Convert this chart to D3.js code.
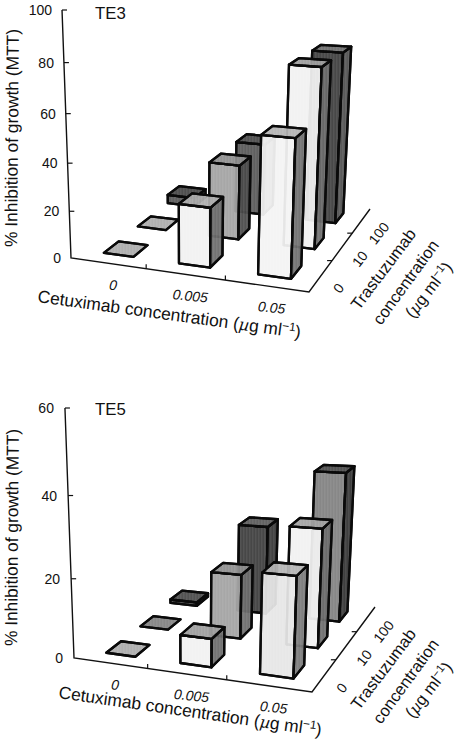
<!DOCTYPE html>
<html><head><meta charset="utf-8">
<script src="https://d3js.org/d3.v7.min.js"></script>
<style>
html,body{margin:0;padding:0;background:#fff}
svg{display:block}
text{font-family:"Liberation Sans",Arial,sans-serif;fill:#111}
</style></head><body>
<script>
const cetuximabLabels = ["0","0.005","0.05"];
const trastuzumabLabels = ["0","10","100"];
// values: rows = trastuzumab 0/10/100, columns = cetuximab 0/0.005/0.05
const te3Trast0   = [0, 25, 56];
const te3Trast10  = [0, 32.5, 76];
const te3Trast100 = [4, 32.5, 75.5];
const te5Trast0   = [0, 7, 24];
const te5Trast10  = [0, 16.5, 29.5];
const te5Trast100 = [1, 23.5, 38.5];
const te3Ticks = [0,20,40,60,80,100];
const te5Ticks = [0,20,40,60];
// face greys [front, side, top], same row/column order
const te3Fronts = [["#999","#f1f1f1","#f3f3f3"],["#999","#a2a2a2","#f1f1f1"],["#555","#565656","#3d3d3d"]];
const te3Sides  = [["#888","#6a6a6a","#6c6c6c"],["#888","#484848","#6a6a6a"],["#444","#5a5a5a","#505050"]];
const te3Tops   = [["#b0b0b0","#ababab","#b2b2b2"],["#b0b0b0","#8c8c8c","#9c9c9c"],["#444","#484848","#6a6a6a"]];
const te5Fronts = [["#999","#f1f1f1","#e6e6e6"],["#888","#a2a2a2","#f1f1f1"],["#444","#3c3c3c","#808080"]];
const te5Sides  = [["#888","#6a6a6a","#787878"],["#777","#6a6a6a","#6a6a6a"],["#333","#363636","#333"]];
const te5Tops   = [["#b0b0b0","#9c9c9c","#b2b2b2"],["#888","#8c8c8c","#a0a0a0"],["#484848","#585858","#484848"]];

const svg = d3.select("body").append("svg").attr("width",457).attr("height",747);
const defs = svg.append("defs");
const stripe = defs.append("pattern").attr("id","stripes").attr("width",3).attr("height",6).attr("patternUnits","userSpaceOnUse");
stripe.append("rect").attr("width",1.5).attr("height",6).attr("fill","#fff").attr("fill-opacity",0.07);

function panel(cfg){
  const g = svg.append("g");
  const [p0,p1,p2,p3] = cfg.floor;
  const dx1=p1[0]-p2[0], dx2=p3[0]-p2[0], sx=p0[0]-p1[0]+p2[0]-p3[0];
  const dy1=p1[1]-p2[1], dy2=p3[1]-p2[1], sy=p0[1]-p1[1]+p2[1]-p3[1];
  const den=dx1*dy2-dx2*dy1;
  const G=(sx*dy2-dx2*sy)/den, H=(dx1*sy-sx*dy1)/den;
  const a=p1[0]-p0[0]+G*p1[0], b=p3[0]-p0[0]+H*p3[0], c=p0[0];
  const d=p1[1]-p0[1]+G*p1[1], e=p3[1]-p0[1]+H*p3[1], f=p0[1];
  const V=cfg.vanish;
  const L=(cfg.top[1]-p0[1])/(V[1]-cfg.top[1]);
  const proj=(u,v,z)=>{const w=G*u+H*v+1+L*z;
    return [(a*u+b*v+c+L*V[0]*z)/w,(d*u+e*v+f+L*V[1]*z)/w];};
  const zScale=d3.scaleLinear().domain([0,cfg.max]).range([0,1]);
  const uBand=d3.scaleBand().domain(cetuximabLabels).range([0,1]).paddingInner(0.6).paddingOuter(0.3);
  const vBand=d3.scaleBand().domain(trastuzumabLabels).range([0,1]).paddingInner(0.58).paddingOuter(0.29);
  const uStep=d3.scalePoint().domain(d3.range(4)).range([0,1]);
  const line=d3.line();

  // axes
  const ax=g.append("g").attr("fill","none").attr("stroke","#111").attr("stroke-width",1.2);
  ax.append("path").attr("d",line([proj(0,0,1),proj(0,0,0),proj(1,0,0),proj(1,1,0)])).attr("stroke-width",1.4);
  cfg.ticks.forEach(t=>{
    const p=proj(0,0,zScale(t));
    if(t>0) ax.append("path").attr("d",line([p,[p[0]+5,p[1]]]));
    g.append("text").attr("x",p[0]-cfg.labelGap).attr("y",p[1]+5).attr("text-anchor","end")
      .attr("font-size",14).text(t);
  });
  [1,2].forEach(i=>{
    const p=proj(uStep(i),0,0);
    ax.append("path").attr("d",line([p,[p[0],p[1]-4.5]]));
    const q=proj(1,uStep(i),0);
    ax.append("path").attr("d",line([q,[q[0]-5,q[1]]]));
  });
  // category labels
  cetuximabLabels.forEach((t,i)=>{
    const p=proj((i+0.5)/3,0,0), o=cfg.xLab;
    g.append("text").attr("transform",`translate(${p[0]+o[0]},${p[1]+o[1]}) rotate(6)`)
      .attr("text-anchor","middle").attr("font-size",14).attr("font-style","italic").text(t);
  });
  trastuzumabLabels.forEach((t,i)=>{
    const p=proj(1,(i+0.5)/3,0), o=cfg.vLab;
    g.append("text").attr("transform",`translate(${p[0]+o[0]},${p[1]+o[1]}) rotate(-52)`)
      .attr("text-anchor","middle").attr("dy","0.35em").attr("font-size",14).text(t);
  });

  // bars, back to front
  const bars=g.append("g");
  d3.range(2,-1,-1).forEach(r=>{
    d3.range(3).forEach(cI=>{
      const u0=uBand(cetuximabLabels[cI]), u1=u0+uBand.bandwidth();
      const v0=vBand(trastuzumabLabels[r]), v1=v0+vBand.bandwidth();
      const val=cfg.rows[r][cI], z=zScale(val);
      const bar=bars.append("g").attr("stroke","#0a0a0a").attr("stroke-width",2.3).attr("stroke-linejoin","round");
      const quad=(pts,col)=>{
        const dPath=line(pts)+"Z";
        bar.append("path").attr("d",dPath).attr("fill",col).attr("fill-opacity",val>0?0.94:1);
        bar.append("path").attr("d",dPath).attr("fill","url(#stripes)").attr("stroke","none");
        bar.append("path").attr("d",dPath).attr("fill","none");
      };
      if(val>0){
        quad([proj(u0,v0,0),proj(u1,v0,0),proj(u1,v0,z),proj(u0,v0,z)],cfg.fronts[r][cI]);
        quad([proj(u1,v0,0),proj(u1,v1,0),proj(u1,v1,z),proj(u1,v0,z)],cfg.sides[r][cI]);
      }
      quad([proj(u0,v0,z),proj(u1,v0,z),proj(u1,v1,z),proj(u0,v1,z)],cfg.tops[r][cI]);
    });
  });

  // texts
  g.append("text").attr("x",95).attr("y",cfg.titleY).attr("font-size",16.8).text(cfg.title);
  g.append("text").attr("transform",`translate(${cfg.yTitle[0]},${cfg.yTitle[1]}) rotate(-89.5)`)
    .attr("font-size",17.6).attr("textLength",cfg.yTitle[2]).attr("lengthAdjust","spacingAndGlyphs")
    .text("% Inhibition of growth (MTT)");
  const unit=(sel)=>{
    sel.append("tspan").text("(");
    sel.append("tspan").attr("font-family","'DejaVu Serif',serif").attr("font-style","italic").attr("font-size","0.92em").text("µ");
    sel.append("tspan").text("g ml");
    sel.append("tspan").attr("dy",-6).attr("font-size","0.68em").text("−1");
    sel.append("tspan").attr("dy",6).text(")");
  };
  const xt=g.append("text").attr("transform",`translate(${cfg.xTitle[0]},${cfg.xTitle[1]}) rotate(${cfg.xTitle[2]})`).attr("font-size",17.4);
  xt.append("tspan").text("Cetuximab concentration ");
  unit(xt);
  const rt=cfg.right;
  g.append("text").attr("transform",`translate(${rt[0][0]},${rt[0][1]}) rotate(-53)`).attr("font-size",16.6).text("Trastuzumab");
  g.append("text").attr("transform",`translate(${rt[1][0]},${rt[1][1]}) rotate(-54)`).attr("font-size",16.6).text("concentration");
  const t3=g.append("text").attr("transform",`translate(${rt[2][0]},${rt[2][1]}) rotate(-52)`).attr("font-size",16.6);
  unit(t3);
}

panel({title:"TE3",titleY:19,max:100,ticks:te3Ticks,labelGap:10,
  rows:[te3Trast0,te3Trast10,te3Trast100],fronts:te3Fronts,sides:te3Sides,tops:te3Tops,
  floor:[[71,258],[309,292],[370,209],[168,186]],top:[62,10],vanish:[188,3490],
  xLab:[4.5,26.5],vLab:[17.5,12.5],
  yTitle:[17,247,218],xTitle:[37,302,7.8],
  right:[[359,311],[381,326],[413,319]]});
panel({title:"TE5",titleY:415,max:60,ticks:te5Ticks,labelGap:11,
  rows:[te5Trast0,te5Trast10,te5Trast100],fronts:te5Fronts,sides:te5Sides,tops:te5Tops,
  floor:[[74,658],[312,692],[375,607],[171,586]],top:[65,408],vanish:[191,3890],
  xLab:[4.5,26.5],vLab:[17.5,12.5],
  yTitle:[17,646,217],xTitle:[58,698,8.2],
  right:[[359,711],[381,725],[413,719]]});
</script>
</body></html>
